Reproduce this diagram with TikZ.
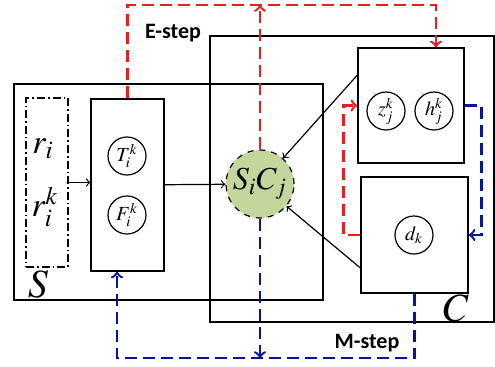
\documentclass[tikz,border=0pt]{standalone}
\usepackage[no-math]{fontspec}
\usepackage{mathptmx}
\setsansfont{Carlito}
\definecolor{estepred}{RGB}{230,30,35}
\definecolor{mstepblue}{RGB}{10,20,150}
\definecolor{scgreen}{RGB}{195,214,155}
\usetikzlibrary{shapes,arrows,positioning,calc}

\begin{document}
\begin{tikzpicture}[x=0.5pt, y=-0.5pt,
    box/.style={rectangle, draw, line width=0.6pt, inner sep=0pt},
    var/.style={circle, draw, line width=0.6pt, minimum size=19pt, inner sep=0pt, font=\fontsize{10}{11}\selectfont},
    arrow/.style={->, line width=0.6pt},
    estep/.style={->, estepred, line width=1.2pt, dash pattern=on 6pt off 3pt},
    mstep/.style={->, mstepblue, line width=1.2pt, dash pattern=on 6pt off 3pt},
    steplabel/.style={font=\fontsize{11}{13}\selectfont\sffamily\bfseries},
    setlabel/.style={font=\fontsize{17}{20}\selectfont}]

    \useasboundingbox (0,0) rectangle (495,366);

    \node[box, minimum width=154.5pt, minimum height=108pt] (sset) at (168.5,192) {};
    \node[box, minimum width=142pt, minimum height=143pt] (cset) at (352,179) {};

    \node[box, dash pattern=on 4pt off 1.5pt on 0.8pt off 1.5pt, minimum width=21pt, minimum height=84.5pt] (rbox) at (47,182.5) {};
    \node[setlabel] (ri) at (43,149) {$r_i$};
    \node[setlabel] (rik) at (45,207) {$r_i^k$};

    \node[box, fill=white, minimum width=36.5pt, minimum height=86pt] (tf) at (127.5,185) {};
    \node[var] (tik) at (127,156) {$T_i^k$};
    \node[var] (fik) at (127,215) {$F_i^k$};

    \node[box, fill=white, minimum width=53pt, minimum height=57.5pt] (zh) at (411,105.5) {};
    \node[var] (zjk) at (386,111) {$z_j^k$};
    \node[var] (hjk) at (434,111) {$h_j^k$};

    \node[box, fill=white, minimum width=53.5pt, minimum height=58pt] (dbox) at (414.5,235) {};
    \node[var] (dk) at (414,235) {$d_k$};

    \node[circle, draw, dashed, fill=scgreen, line width=0.6pt, minimum size=34pt, inner sep=0pt,
          font=\fontsize{16}{18}\selectfont] (sc) at (260,184) {$S_iC_j$};

    \node[setlabel, font=\fontsize{20}{24}\selectfont] (slabel) at (38,284) {$S$};
    \node[setlabel, font=\fontsize{20}{24}\selectfont] (clabel) at (456,308) {$C$};
    \node[steplabel] (elabel) at (173,33) {E-step};
    \node[steplabel] (mlabel) at (367,343) {M-step};

    \coordinate (etop) at (436,5);
    \coordinate (mbot) at (117,358);

    \draw[arrow] (rbox.east) -- (rbox.east -| tf.west);
    \draw[arrow] (tf) -- (sc);
    \draw[arrow] (zh.west |- 0,75) -- (sc);
    \draw[arrow] (dbox.west |- 0,268) -- (sc);

    \draw[estep] (tf.north) |- (etop) -- (zh.north -| etop);
    \draw[estep] (sc.north) -- (sc.north |- etop);
    \draw[estep] (dbox.west) -- ++(-17,0) |- (zh.west);

    \draw[mstep] (zh.east) -- ++(17,0) |- (dbox.east);
    \draw[mstep] (dbox.south) |- (mbot) -- (mbot |- tf.south);
    \draw[mstep] (sc.south) -- (sc.south |- mbot);
\end{tikzpicture}
\end{document}
